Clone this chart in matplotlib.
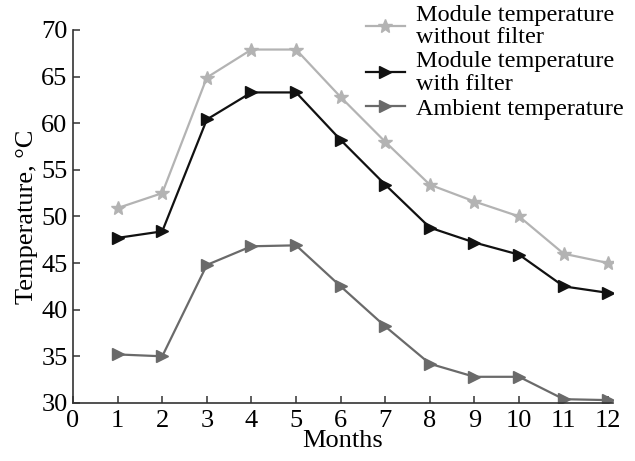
import matplotlib.pyplot as plt

plt.rcParams['font.family'] = ['Liberation Serif', 'DejaVu Serif']

months = [1, 2, 3, 4, 5, 6, 7, 8, 9, 10, 11, 12]
without_filter = [50.9, 52.5, 64.9, 67.9, 67.9, 62.8, 58.0, 53.4, 51.6, 50.0, 46.0, 45.0]
with_filter = [47.7, 48.4, 60.4, 63.3, 63.3, 58.2, 53.4, 48.8, 47.2, 45.9, 42.5, 41.8]
ambient = [35.2, 35.0, 44.8, 46.8, 46.9, 42.5, 38.2, 34.2, 32.8, 32.8, 30.4, 30.3]

fig = plt.figure(figsize=(6.35, 4.61), dpi=100)
ax = fig.add_axes([0.115, 0.126, 0.85, 0.809])

ax.plot(months, without_filter, color='#b3b3b3', marker='*', markersize=10,
        linewidth=1.6, label='Module temperature\nwithout filter')
ax.plot(months, with_filter, color='#111111', marker='>', markersize=9,
        linewidth=1.6, label='Module temperature\nwith filter')
ax.plot(months, ambient, color='#6a6a6a', marker='>', markersize=9,
        linewidth=1.6, label='Ambient temperature')

ax.set_xlim(0, 12.1)
ax.set_ylim(30, 70)
ax.set_xticks(range(0, 13))
ax.set_yticks(range(30, 71, 5))

for side in ['top', 'right']:
    ax.spines[side].set_visible(False)
for side in ['left', 'bottom']:
    ax.spines[side].set_color('#333333')
    ax.spines[side].set_linewidth(1.2)

ax.tick_params(direction='in', length=5, width=1.1, color='#333333',
               labelsize=19)
ax.tick_params(axis='x', pad=5)
ax.tick_params(axis='y', pad=4)
ax.set_xlabel('Months', fontsize=19, labelpad=-1)
ax.set_ylabel('Temperature, °C', fontsize=19, labelpad=2)

leg = fig.legend(loc='upper right', bbox_to_anchor=(0.997, 1.01), frameon=False,
                 fontsize=17.5, handlelength=1.6, handletextpad=0.45,
                 labelspacing=0.12, borderaxespad=0)
for t in leg.get_texts():
    t.set_linespacing(1.08)

fig.savefig('out.png', dpi=100)
